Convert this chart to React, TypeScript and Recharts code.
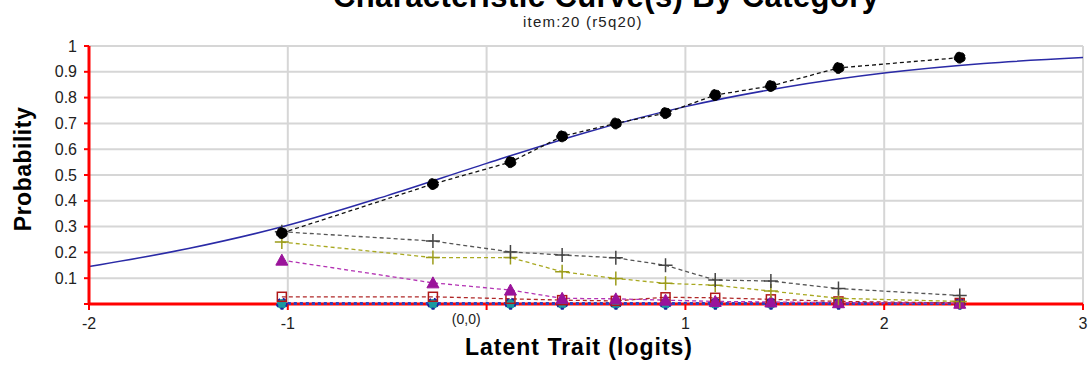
import { LineChart, Line, XAxis, YAxis, CartesianGrid, ReferenceLine } from "recharts";

// person-group locations (logits) where the observed proportions were plotted
const thetaPoints = [-1.03, -0.27, 0.12, 0.38, 0.65, 0.9, 1.15, 1.43, 1.77, 2.38];

// observed proportions by category
const catDots = [0.275, 0.465, 0.55, 0.65, 0.7, 0.74, 0.81, 0.845, 0.915, 0.955];
const catGrayPlus = [0.28, 0.244, 0.202, 0.19, 0.179, 0.15, 0.093, 0.089, 0.06, 0.033];
const catOlivePlus = [0.24, 0.18, 0.18, 0.125, 0.099, 0.08, 0.073, 0.05, 0.022, 0.01];
const catTriangles = [0.17, 0.082, 0.054, 0.022, 0.02, 0.015, 0.01, 0.008, 0.005, 0.003];
const catSquares = [0.028, 0.028, 0.02, 0.015, 0.012, 0.026, 0.024, 0.018, 0.01, 0.004];
const catTeal = [0, 0, 0, 0, 0, 0, 0, 0, 0, 0];
const catBlue = [0.002, 0.002, 0.002, 0.002, 0.002, 0.002, 0.002, 0.002, 0.002, 0.002];

// model curve
const modelTheta = [-2, -1.5, -1, -0.5, 0, 0.5, 1, 1.5, 2, 2.5, 3];
const modelProb = [0.145, 0.215, 0.305, 0.42, 0.545, 0.665, 0.765, 0.84, 0.895, 0.932, 0.955];

const xTicks = [-2, -1, 0, 1, 2, 3];
const yTicks = [0, 0.1, 0.2, 0.3, 0.4, 0.5, 0.6, 0.7, 0.8, 0.9, 1];

const observed = thetaPoints.map((t, i) => ({
  theta: t,
  dots: catDots[i],
  grayPlus: catGrayPlus[i],
  olivePlus: catOlivePlus[i],
  tri: catTriangles[i],
  sq: catSquares[i],
  teal: catTeal[i],
  blue: catBlue[i],
}));

const model = modelTheta.map((t, i) => ({ theta: t, p: modelProb[i] }));

const FONT = '"Liberation Sans", Arial, sans-serif';

const plusDot = (color: string) => (p: any) => (
  <path
    key={`pl-${color}-${p.index}`}
    d={`M${p.cx - 7},${p.cy}h14M${p.cx},${p.cy - 7}v14`}
    stroke={color}
    strokeWidth={1.5}
    fill="none"
  />
);

const triDot = (p: any) => (
  <path
    key={`tr-${p.index}`}
    d={`M${p.cx},${p.cy - 6}L${p.cx + 6},${p.cy + 5}L${p.cx - 6},${p.cy + 5}Z`}
    fill="#9a139a"
    stroke="#9a139a"
  />
);

const squareDot = (p: any) => (
  <rect
    key={`sq-${p.index}`}
    x={p.cx - 4.5}
    y={p.cy - 4.5}
    width={9}
    height={9}
    fill="none"
    stroke="#b01818"
    strokeWidth={1.5}
  />
);

const XTick = (props: any) => {
  const { x, y, payload } = props;
  if (payload.value === 0) {
    return (
      <text x={x - 6} y={y + 6} textAnchor="end" fontSize={14} fill="#222" fontFamily={FONT}>
        (0,0)
      </text>
    );
  }
  return (
    <text x={x} y={y} dy="0.71em" textAnchor="middle" fontSize={16} fill="#222" fontFamily={FONT}>
      {payload.value}
    </text>
  );
};

export default function App() {
  return (
    <div
      style={{
        position: "absolute",
        left: 0,
        top: 0,
        width: 1089,
        height: 365,
        background: "#fff",
        overflow: "hidden",
        fontFamily: FONT,
      }}
    >
      <div
        style={{
          position: "absolute",
          left: 333,
          top: -19,
          fontSize: 31,
          lineHeight: "31px",
          letterSpacing: 0.4,
          fontWeight: "bold",
          color: "#000",
          whiteSpace: "nowrap",
        }}
      >
        Characteristic Curve(s) By Category
      </div>
      <div
        style={{
          position: "absolute",
          left: 523,
          top: 14,
          fontSize: 15,
          lineHeight: "15px",
          letterSpacing: 1.2,
          color: "#222",
          whiteSpace: "nowrap",
        }}
      >
        item:20 (r5q20)
      </div>
      <div
        style={{
          position: "absolute",
          left: 465,
          top: 336,
          fontSize: 23,
          lineHeight: "23px",
          letterSpacing: 1,
          fontWeight: "bold",
          color: "#000",
          whiteSpace: "nowrap",
        }}
      >
        Latent Trait (logits)
      </div>
      <div
        style={{
          position: "absolute",
          left: 23,
          top: 169,
          fontSize: 23,
          lineHeight: "23px",
          letterSpacing: 0.5,
          fontWeight: "bold",
          color: "#000",
          whiteSpace: "nowrap",
          transform: "translate(-50%, -50%) rotate(-90deg)",
        }}
      >
        Probability
      </div>
      <div style={{ position: "absolute", left: 0, top: 0 }}>
        <LineChart width={1089} height={365} margin={{ top: 46, right: 6, bottom: 31, left: 9 }}>
          <CartesianGrid stroke="#d6d6d6" strokeWidth={2} />
          <XAxis
            type="number"
            dataKey="theta"
            domain={[-2, 3]}
            ticks={xTicks}
            allowDataOverflow
            height={30}
            axisLine={false}
            tickLine={{ stroke: "#ff0000", strokeWidth: 2 }}
            tickSize={6}
            tickMargin={8}
            tick={<XTick />}
          />
          <YAxis
            type="number"
            domain={[0, 1]}
            ticks={yTicks}
            width={80}
            axisLine={{ stroke: "#ff0000", strokeWidth: 3 }}
            tickLine={{ stroke: "#ff0000", strokeWidth: 2 }}
            tickSize={5}
            tickMargin={7}
            tick={{ fill: "#222", fontSize: 16, fontFamily: FONT }}
            tickFormatter={(v: number) => (v === 0 ? "" : String(v))}
          />
          <ReferenceLine y={0} stroke="#ff0000" strokeWidth={3} />
          <Line
            data={model}
            dataKey="p"
            type="monotone"
            stroke="#2a2aa6"
            strokeWidth={1.5}
            dot={false}
            isAnimationActive={false}
          />
          <Line
            data={observed}
            dataKey="teal"
            stroke="#1f8f9f"
            strokeWidth={2}
            strokeDasharray="3 3"
            dot={{ r: 5, fill: "#1a9aa0", stroke: "#1a4f9a", strokeWidth: 1.5 }}
            isAnimationActive={false}
          />
          <Line
            data={observed}
            dataKey="blue"
            stroke="#2b3fc0"
            strokeWidth={3}
            strokeDasharray="3 3"
            dot={{ r: 5, fill: "none", stroke: "#2020a0", strokeWidth: 1.5 }}
            isAnimationActive={false}
          />
          <Line
            data={observed}
            dataKey="sq"
            stroke="#b02828"
            strokeWidth={1.3}
            strokeDasharray="4 3"
            dot={squareDot}
            isAnimationActive={false}
          />
          <Line
            data={observed}
            dataKey="tri"
            stroke="#b332b3"
            strokeWidth={1.3}
            strokeDasharray="4 3"
            dot={triDot}
            isAnimationActive={false}
          />
          <Line
            data={observed}
            dataKey="olivePlus"
            stroke="#a8a820"
            strokeWidth={1.3}
            strokeDasharray="4 3"
            dot={plusDot("#9c9c1a")}
            isAnimationActive={false}
          />
          <Line
            data={observed}
            dataKey="grayPlus"
            stroke="#555555"
            strokeWidth={1.3}
            strokeDasharray="4 3"
            dot={plusDot("#444444")}
            isAnimationActive={false}
          />
          <Line
            data={observed}
            dataKey="dots"
            stroke="#111111"
            strokeWidth={1.3}
            strokeDasharray="4 3"
            dot={{ r: 5.5, fill: "#000", stroke: "#000", strokeWidth: 1 }}
            isAnimationActive={false}
          />
        </LineChart>
      </div>
    </div>
  );
}
